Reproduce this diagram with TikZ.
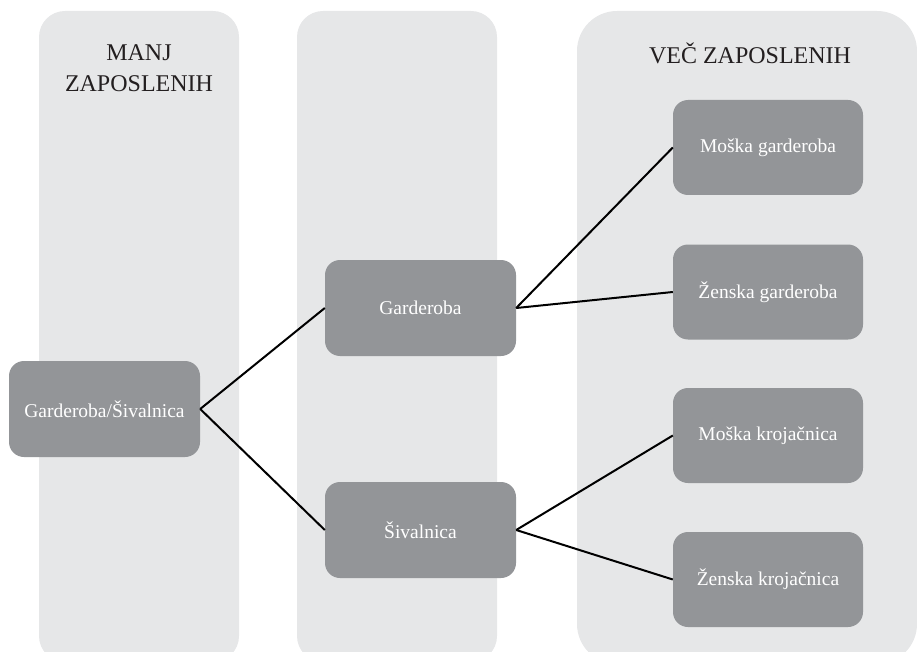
\documentclass[tikz,border=0pt]{standalone}
\usepackage{fontspec}
\setmainfont{Liberation Serif}
\definecolor{colbg}{HTML}{E6E7E8}
\definecolor{boxbg}{HTML}{939598}
\definecolor{headtxt}{HTML}{231F20}
\begin{document}
\begin{tikzpicture}[x=1pt,y=-1pt,
  colband/.style={fill=colbg},
  unitbox/.style={draw=none, fill=boxbg, rounded corners=15pt, minimum width=191pt, minimum height=96pt, inner sep=0pt, text=white, font=\fontsize{19.5}{23}\selectfont},
  headtext/.style={text=headtxt, align=center, font=\fontsize{24}{31}\selectfont},
  link/.style={draw=black, line width=2pt}
]
\useasboundingbox (0,0) rectangle (917,652);
\fill[colband, rounded corners=26pt] (39,11) rectangle (239,662);
\fill[colband, rounded corners=26pt] (297,11) rectangle (497,662);
\fill[colband, rounded corners=40pt] (577,11) rectangle (917,664);

\node[headtext] (h1) at (139,68) {MANJ\\ZAPOSLENIH};
\node[headtext] (h3) at (750,53) {VEČ ZAPOSLENIH};

\node[unitbox] (gs) at (104.5,409) {Garderoba/Šivalnica};
\node[unitbox] (g) at (420.5,308) {Garderoba};
\node[unitbox] (s) at (420.5,530) {Šivalnica};
\node[unitbox, minimum width=190pt, minimum height=95pt] (mg) at (768,147.5) {Moška garderoba};
\node[unitbox, minimum width=190pt, minimum height=95pt] (zg) at (768,292) {Ženska garderoba};
\node[unitbox, minimum width=190pt, minimum height=95pt] (mk) at (768,435.5) {Moška krojačnica};
\node[unitbox, minimum width=190pt, minimum height=95pt] (zk) at (768,579.5) {Ženska krojačnica};

\draw[link] (gs.east) -- (g.west);
\draw[link] (gs.east) -- (s.west);
\draw[link] (g.east) -- (mg.west);
\draw[link] (g.east) -- (zg.west);
\draw[link] (s.east) -- (mk.west);
\draw[link] (s.east) -- (zk.west);
\end{tikzpicture}
\end{document}
